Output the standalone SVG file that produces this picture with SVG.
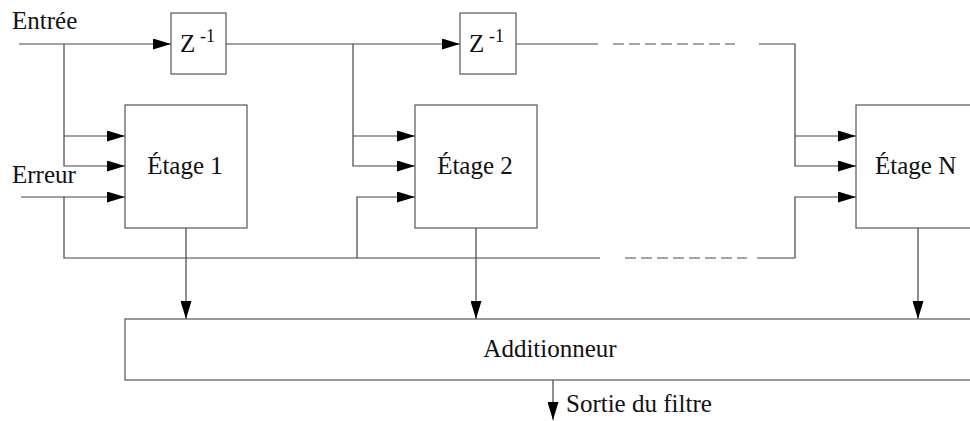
<svg xmlns="http://www.w3.org/2000/svg" width="970" height="421" viewBox="0 0 970 421">
<style>
text{font-family:"Liberation Serif","Times New Roman",serif;font-size:25px;fill:#111}
.mid{text-anchor:middle}
.sup{font-size:18px}
.box{fill:#fff;stroke:#555;stroke-width:1.2}
.ln{fill:none;stroke:#444;stroke-width:1.2}
.dash{fill:none;stroke:#888;stroke-width:1.5;stroke-dasharray:11 5}
.arr{marker-end:url(#ah)}
</style>
<defs>
<marker id="ah" markerUnits="userSpaceOnUse" markerWidth="18" markerHeight="11" refX="18" refY="5.5" orient="auto">
<path d="M0,0 L18,5.5 L0,11 z" fill="#000"/>
</marker>
</defs>
<rect width="970" height="421" fill="#fff"/>
<g id="connectors">
<path class="ln arr" d="M19,44 H171"/>
<path class="ln arr" d="M226,44 H460"/>
<path class="ln" d="M516,44 H598"/>
<path class="dash" d="M613,44 H735"/>
<path class="ln arr" d="M759,44 H795 V166 H856"/>
<path class="ln arr" d="M795,136 H856"/>
<path class="ln arr" d="M64,44 V166 H125"/>
<path class="ln arr" d="M64,136 H125"/>
<path class="ln arr" d="M353,44 V166 H415"/>
<path class="ln arr" d="M353,136 H415"/>
<path class="ln arr" d="M21,197 H125"/>
<path class="ln" d="M64,197 V258 H600"/>
<path class="ln arr" d="M357,258 V197 H415"/>
<path class="dash" d="M625,258 H747"/>
<path class="ln arr" d="M757,258 H795 V197 H856"/>
<path class="ln arr" d="M186,228 V319"/>
<path class="ln arr" d="M476,228 V319"/>
<path class="ln arr" d="M918,228 V319"/>
<path class="ln arr" d="M553,380 V420"/>
</g>
<g id="z1">
<rect class="box" x="171" y="13" width="55" height="61"/>
<text x="180" y="52">Z</text><text class="sup" x="200" y="42">-1</text>
</g>
<g id="z2">
<rect class="box" x="460" y="13" width="56" height="61"/>
<text x="469" y="52">Z</text><text class="sup" x="489" y="42">-1</text>
</g>
<g id="etage1">
<rect class="box" x="125" y="105" width="122" height="123"/>
<text class="mid" x="185" y="174">Étage 1</text>
</g>
<g id="etage2">
<rect class="box" x="415" y="105" width="122" height="123"/>
<text class="mid" x="475" y="174">Étage 2</text>
</g>
<g id="etageN">
<rect class="box" x="856" y="105" width="130" height="123"/>
<text x="875" y="174">Étage N</text>
</g>
<g id="additionneur">
<rect class="box" x="125" y="319" width="860" height="61"/>
<text class="mid" x="550" y="357">Additionneur</text>
</g>
<g id="labels">
<text x="12" y="29">Entrée</text>
<text x="12" y="183">Erreur</text>
<text x="566" y="412">Sortie du filtre</text>
</g>
</svg>
